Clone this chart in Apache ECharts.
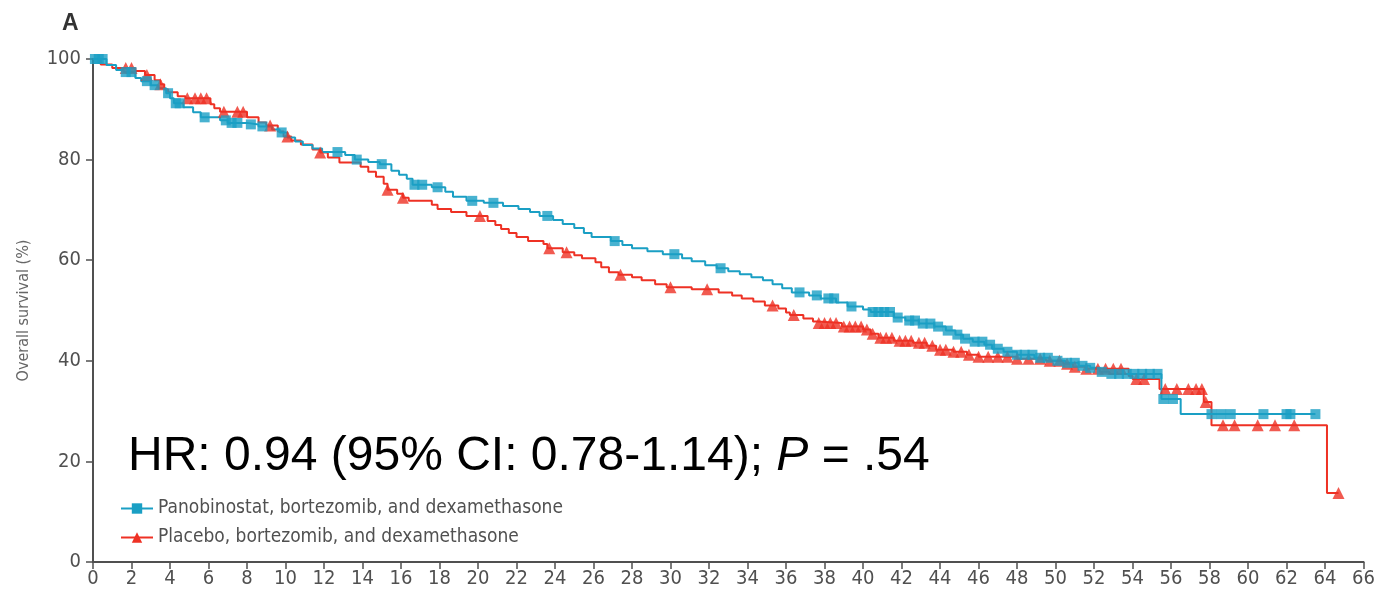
<!DOCTYPE html>
<html>
<head>
<meta charset="utf-8">
<title>Overall survival</title>
<script src="https://cdn.jsdelivr.net/npm/echarts@6/dist/echarts.min.js"></script>
<style>
  html, body { margin: 0; padding: 0; background: #ffffff; }
  #chart { width: 1378px; height: 594px; }
</style>
</head>
<body>
<div id="chart"></div>
<script>
// Kaplan-Meier estimates: month at which each step starts and survival (%) from then on
const panoName = 'Panobinostat, bortezomib, and dexamethasone';
const panoTimes = [0,0.7,1.2,1.6,2.2,2.5,3.0,3.4,3.8,4.0,4.2,4.7,5.2,5.6,6.6,7.0,8.0,8.6,9.3,9.7,
  10.1,10.5,10.9,11.4,11.9,13.1,13.6,14.3,14.9,15.5,15.9,16.3,16.6,17.6,18.3,18.7,19.4,20.3,21.3,22.1,
  22.7,23.2,23.9,24.4,25.0,25.5,25.9,26.9,27.5,28.0,28.8,29.6,30.6,31.1,31.8,32.4,33.0,33.6,34.2,34.8,
  35.3,35.8,36.3,37.2,37.8,38.6,39.2,40.0,40.4,41.6,42.2,42.9,43.7,44.3,44.8,45.2,45.7,46.3,46.7,47.3,
  48.0,48.9,49.7,50.5,51.2,51.8,52.3,52.8,55.5,56.5,63.5];
const panoSurv = [100,98.8,97.8,97.4,96.2,95.6,94.8,94.2,93.2,92.2,91.2,90.4,89.4,88.4,87.8,87.3,87.0,86.6,86.0,85.4,
  84.4,83.6,82.9,82.2,81.5,80.9,80.0,79.5,79.1,77.8,77.0,76.2,75.0,74.5,73.6,72.6,71.8,71.4,70.8,70.2,
  69.6,68.8,68.0,67.2,66.4,65.4,64.6,63.8,63.0,62.4,61.8,61.2,60.4,59.8,59.0,58.4,57.8,57.2,56.6,56.0,
  55.2,54.4,53.6,53.0,52.4,51.6,50.8,50.2,49.7,48.6,48.0,47.4,46.8,46.0,45.2,44.4,43.8,43.2,42.4,41.8,
  41.2,40.6,40.0,39.6,39.0,38.6,37.8,37.4,32.4,29.4,29.4];
// censoring times (months)
const panoCensor = [0.1,0.3,0.5,1.7,2.0,2.8,3.2,3.9,4.3,4.5,5.8,6.9,7.2,7.5,8.2,8.8,9.8,12.7,13.7,15.0,
  16.7,17.1,17.9,19.7,20.8,23.6,27.1,30.2,32.6,36.7,37.6,38.2,38.5,39.4,40.5,40.8,41.1,41.4,41.8,42.4,
  42.7,43.1,43.5,43.9,44.4,44.9,45.3,45.8,46.2,46.6,47.0,47.5,48.0,48.4,48.8,49.2,49.6,50.1,50.6,51.0,
  51.4,51.8,52.4,52.9,53.3,53.7,54.1,54.5,54.9,55.3,55.6,56.1,58.1,58.6,59.1,60.8,62.0,62.2,63.5];

const placName = 'Placebo, bortezomib, and dexamethasone';
const placTimes = [0,0.4,1.0,2.2,2.7,3.2,3.5,3.7,3.9,4.4,4.8,6.1,6.3,6.6,8.0,8.6,9.0,9.6,9.9,10.3,
  10.8,11.4,11.8,12.2,12.8,13.9,14.3,14.7,15.1,15.3,15.8,16.1,16.4,17.6,17.9,18.6,19.4,20.5,20.9,21.2,
  21.6,22.0,22.6,23.4,23.6,24.4,25.0,25.4,26.1,26.4,26.8,27.3,28.0,28.5,29.2,29.8,31.1,32.5,33.2,33.7,
  34.3,34.9,35.6,36.0,36.2,36.9,37.4,37.6,38.9,40.0,40.4,40.8,41.6,42.6,43.3,43.8,44.7,45.4,46.0,48.0,
  49.5,50.4,50.9,51.6,53.8,54.0,55.4,57.7,58.1,64.1,64.7];
const placSurv = [100,98.9,98.2,97.6,96.8,95.8,95.0,94.0,93.4,92.6,92.2,91.0,90.2,89.5,88.4,87.4,86.8,85.6,84.6,83.8,
  83.0,82.0,81.4,80.4,79.4,78.6,77.6,76.6,75.2,74.0,73.2,72.4,71.8,71.0,70.2,69.6,68.8,67.8,67.0,66.2,
  65.4,64.6,63.8,63.2,62.4,61.6,61.0,60.4,59.6,58.6,57.6,57.1,56.6,56.0,55.2,54.6,54.2,53.6,53.0,52.4,
  51.8,51.0,50.4,49.6,49.1,48.4,47.8,47.5,46.8,46.2,45.4,44.6,44.0,43.6,43.0,42.2,41.8,41.2,40.8,40.4,
  40.0,39.4,38.8,38.4,37.0,36.4,34.4,31.8,27.2,13.7,13.7];
const placCensor = [1.7,2.0,2.8,3.5,4.9,5.3,5.6,5.9,6.8,7.5,7.8,9.2,10.1,11.8,15.3,16.1,20.1,23.7,24.6,27.4,
  30.0,31.9,35.3,36.4,37.7,38.0,38.3,38.6,39.0,39.3,39.6,39.9,40.2,40.5,40.9,41.2,41.5,41.9,42.2,42.5,
  42.9,43.2,43.6,44.0,44.3,44.7,45.1,45.5,46.0,46.5,47.0,47.5,48.0,48.6,49.2,49.7,50.2,50.6,51.0,51.6,
  52.2,52.6,53.0,53.4,54.2,54.6,55.7,56.3,56.9,57.3,57.6,57.8,58.7,59.3,60.5,61.4,62.4,64.7];

const panelLabel = 'A';
const yAxisTitle = 'Overall survival (%)';
const hazardText = ['HR: 0.94 (95% CI: 0.78-1.14); ', 'P', ' = .54'];

const blue = '#1a9fc4';
const red = '#ee3124';
const grey = '#505050';
const narrow = "'DejaVu Sans Condensed', 'Liberation Sans Narrow', 'DejaVu Sans', sans-serif";

function zip(times, surv) {
  return times.map((t, i) => [t, surv[i]]);
}
// survival level of a step curve at time t
function levelAt(times, surv, t) {
  let v = surv[0];
  for (let i = 0; i < times.length; i++) {
    if (times[i] <= t) v = surv[i];
  }
  return v;
}
function censorPoints(censor, times, surv) {
  return censor.map(t => [t, levelAt(times, surv, t)]);
}

const chart = echarts.init(document.getElementById('chart'));

chart.setOption({
  animation: false,
  backgroundColor: '#ffffff',
  grid: { left: 93, right: 13, top: 59, bottom: 32, containLabel: false },
  legend: {
    left: 115,
    top: 494,
    orient: 'vertical',
    itemWidth: 32,
    itemHeight: 13,
    itemGap: 10,
    data: [panoName, placName],
    textStyle: { fontFamily: narrow, fontSize: 19, color: grey }
  },
  xAxis: {
    type: 'value',
    min: 0,
    max: 66,
    interval: 2,
    axisLine: { show: true, onZero: false, lineStyle: { color: grey, width: 2 } },
    axisTick: { show: true, length: 7, lineStyle: { color: grey, width: 1.5 } },
    axisLabel: { margin: 7, fontFamily: narrow, fontSize: 20, color: grey },
    splitLine: { show: false }
  },
  yAxis: {
    type: 'value',
    min: 0,
    max: 100,
    interval: 20,
    name: yAxisTitle,
    nameLocation: 'middle',
    nameGap: 61,
    nameTextStyle: { fontFamily: narrow, fontSize: 16, color: '#666666' },
    axisLine: { show: true, onZero: false, lineStyle: { color: grey, width: 2 } },
    axisTick: { show: true, length: 7, lineStyle: { color: grey, width: 1.5 } },
    axisLabel: { margin: 12, fontFamily: narrow, fontSize: 20, color: grey },
    splitLine: { show: false }
  },
  series: [
    {
      name: panoName,
      type: 'line',
      step: 'end',
      data: zip(panoTimes, panoSurv),
      showSymbol: false,
      symbol: 'rect',
      symbolSize: 10,
      color: blue,
      lineStyle: { color: blue, width: 2 },
      z: 3
    },
    {
      name: placName,
      type: 'line',
      step: 'end',
      data: zip(placTimes, placSurv),
      showSymbol: false,
      symbol: 'triangle',
      symbolSize: 12,
      color: red,
      lineStyle: { color: red, width: 2 },
      z: 2
    },
    {
      name: panoName,
      type: 'scatter',
      data: censorPoints(panoCensor, panoTimes, panoSurv),
      symbol: 'rect',
      symbolSize: 10,
      itemStyle: { color: blue },
      z: 4
    },
    {
      name: placName,
      type: 'scatter',
      data: censorPoints(placCensor, placTimes, placSurv),
      symbol: 'triangle',
      symbolSize: 12,
      itemStyle: { color: red },
      z: 3
    }
  ],
  graphic: [
    {
      type: 'text',
      left: 62,
      top: 12,
      style: { text: panelLabel, font: "bold 23px 'Liberation Sans', Arial, sans-serif", fill: '#333333' }
    },
    {
      type: 'text',
      left: 128,
      top: 433,
      style: {
        text: '{n|' + hazardText[0] + '}{i|' + hazardText[1] + '}{n|' + hazardText[2] + '}',
        rich: {
          n: { font: "48px 'Liberation Sans', Arial, sans-serif", fill: '#000000' },
          i: { font: "italic 48px 'Liberation Sans', Arial, sans-serif", fill: '#000000' }
        }
      }
    }
  ]
});
</script>
</body>
</html>
